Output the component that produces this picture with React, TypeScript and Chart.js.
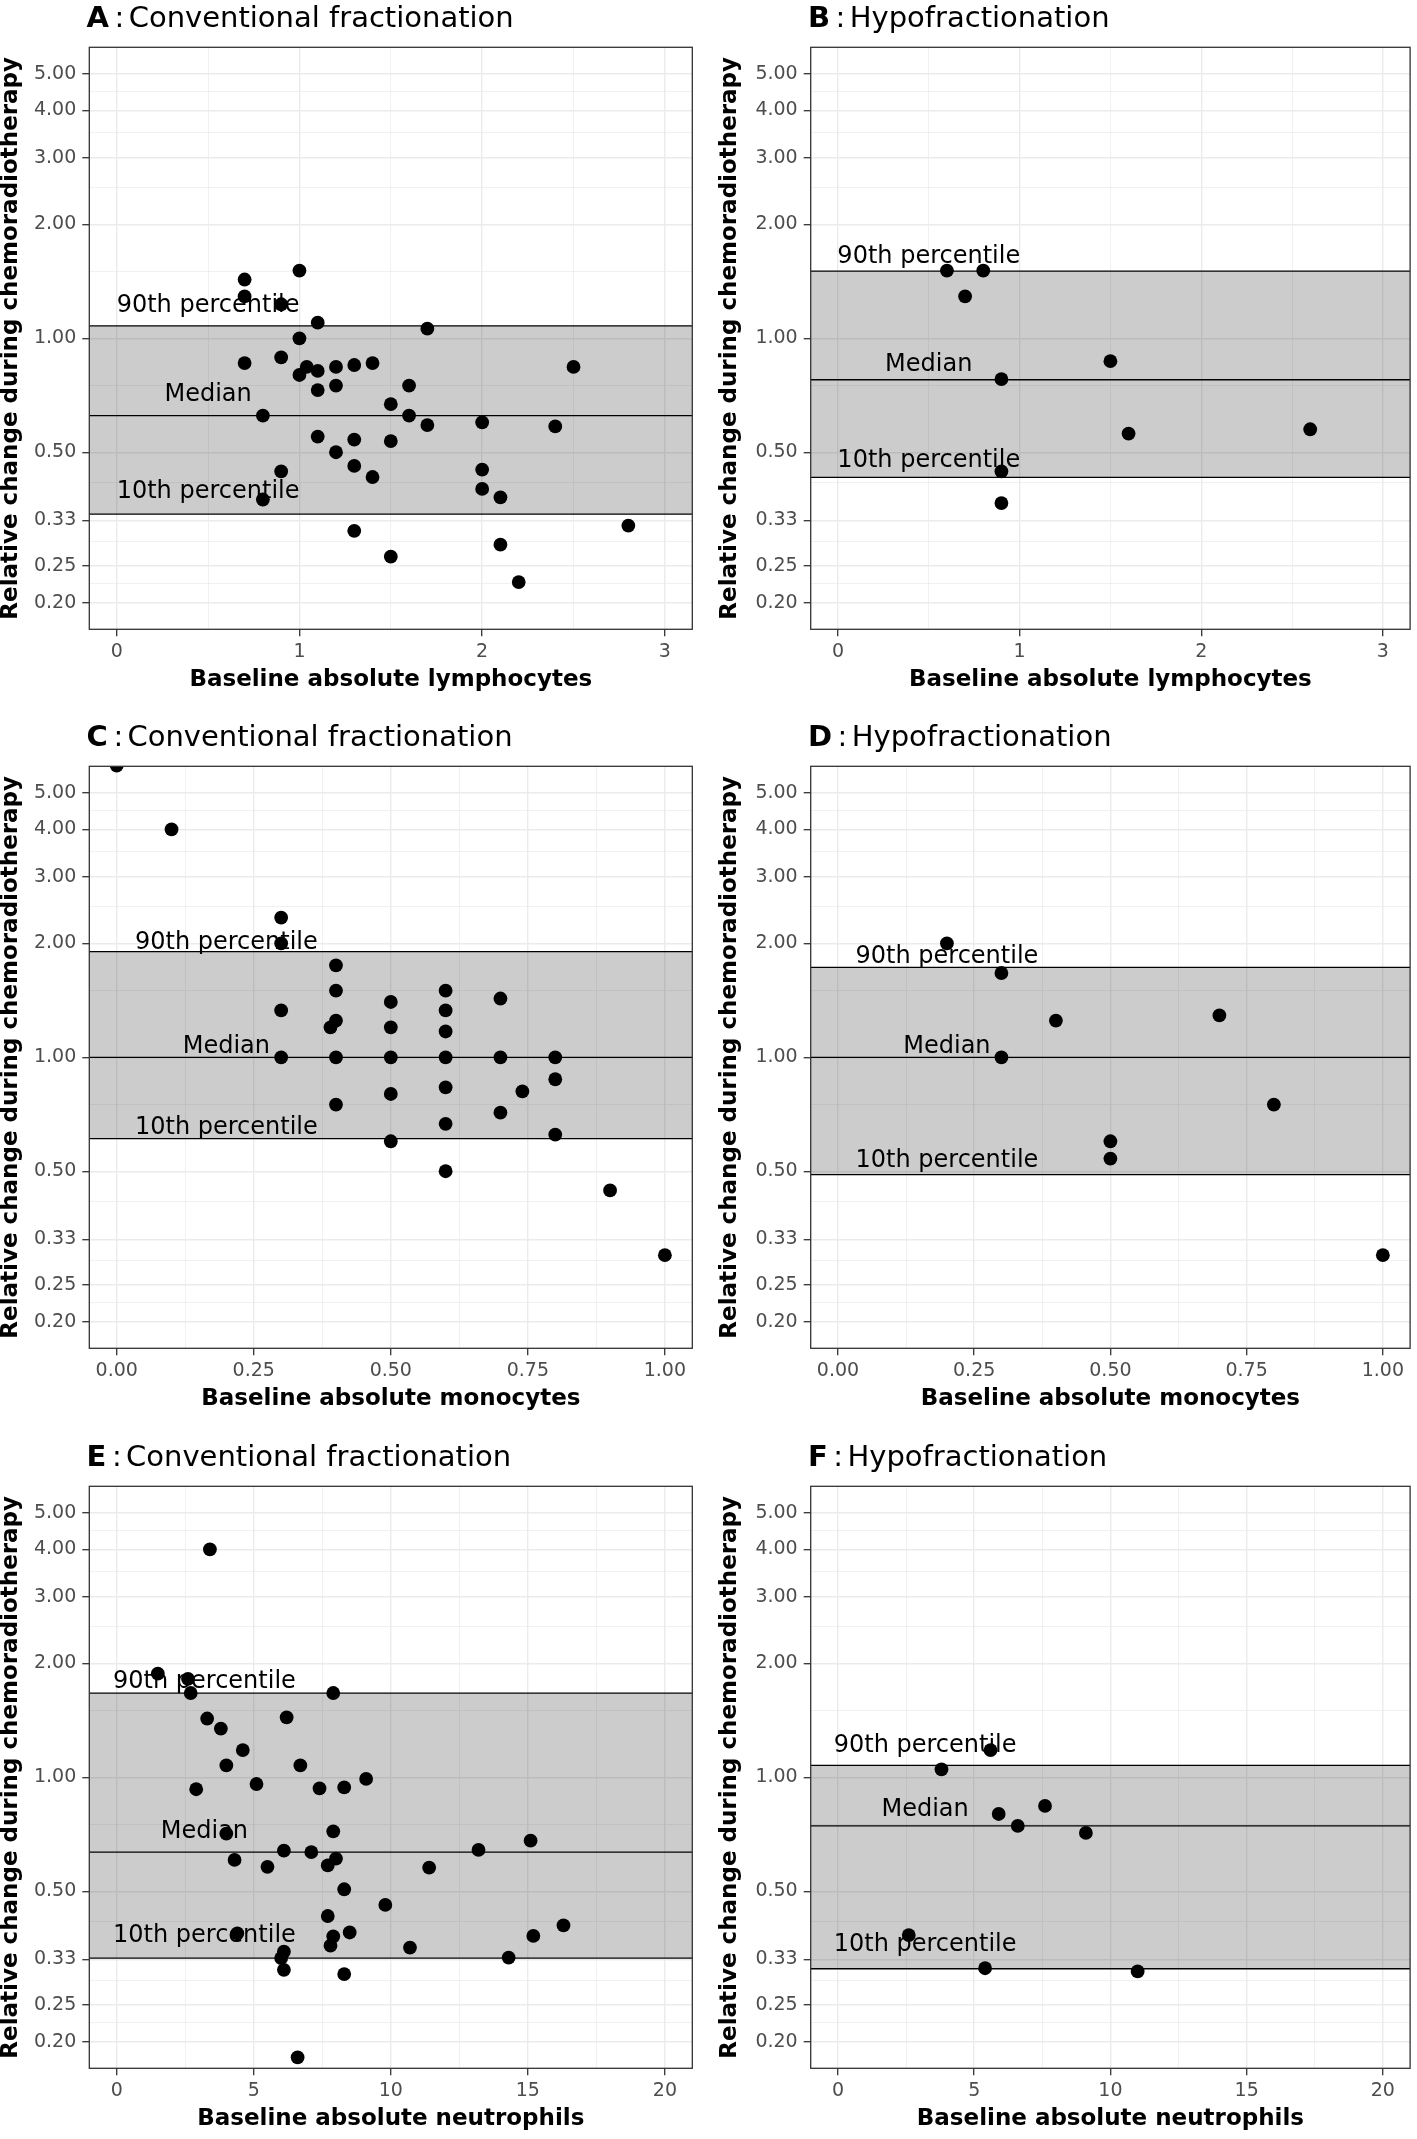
import React, { useEffect, useRef } from "react";
import { Chart, registerables } from "chart.js";

Chart.register(...registerables);

const FONT = "'DejaVu Sans', 'Liberation Sans', sans-serif";

// ---------- shared y axis (log) ----------
const yMajorTicks = [0.2, 0.25, 0.33, 0.5, 1, 2, 3, 4, 5];
const yTickLabels = ["0.20", "0.25", "0.33", "0.50", "1.00", "2.00", "3.00", "4.00", "5.00"];
const yMinorTicks = [0.225, 0.29, 0.415, 0.75, 1.5, 2.5, 3.5, 4.5];
const yLimits = [0.2, 5];

// ---------- x axes ----------
const lymphTicks = [0, 1, 2, 3];
const lymphTickLabels = ["0", "1", "2", "3"];
const lymphMinor = [0.5, 1.5, 2.5];
const lymphLimits = [0, 3];

const monoTicks = [0, 0.25, 0.5, 0.75, 1];
const monoTickLabels = ["0.00", "0.25", "0.50", "0.75", "1.00"];
const monoMinor = [0.125, 0.375, 0.625, 0.875];
const monoLimits = [0, 1];

const neutTicks = [0, 5, 10, 15, 20];
const neutTickLabels = ["0", "5", "10", "15", "20"];
const neutMinor = [2.5, 7.5, 12.5, 17.5];
const neutLimits = [0, 20];

// ---------- data ----------
const lymphConvX = [0.7, 0.7, 1.0, 0.9, 1.1, 1.7, 1.0, 0.7, 0.9, 1.0, 1.04, 1.1, 1.2, 1.3, 1.4, 2.5, 1.2, 1.1, 1.6, 1.5, 0.8, 1.6, 1.7, 2.0, 2.4, 1.1, 1.3, 1.5, 1.2, 0.9, 1.3, 1.4, 2.0, 2.0, 2.1, 0.8, 2.8, 1.3, 2.1, 1.5, 2.2];
const lymphConvY = [1.43, 1.29, 1.51, 1.23, 1.10, 1.06, 1.00, 0.86, 0.89, 0.80, 0.84, 0.82, 0.84, 0.85, 0.86, 0.84, 0.75, 0.73, 0.75, 0.67, 0.625, 0.625, 0.59, 0.60, 0.585, 0.55, 0.54, 0.535, 0.50, 0.445, 0.46, 0.43, 0.45, 0.40, 0.38, 0.375, 0.32, 0.31, 0.285, 0.265, 0.227];
const lymphConvQ = [1.079, 0.625, 0.343];

const lymphHypoX = [0.6, 0.8, 0.7, 1.5, 0.9, 1.6, 2.6, 0.9, 0.9];
const lymphHypoY = [1.51, 1.51, 1.29, 0.87, 0.78, 0.56, 0.575, 0.445, 0.367];
const lymphHypoQ = [1.504, 0.777, 0.429];

const monoConvX = [0, 0.1, 0.3, 0.3, 0.4, 0.4, 0.6, 0.5, 0.7, 0.3, 0.6, 0.4, 0.39, 0.5, 0.6, 0.3, 0.4, 0.5, 0.6, 0.7, 0.8, 0.8, 0.6, 0.5, 0.74, 0.4, 0.7, 0.6, 0.8, 0.5, 0.6, 0.9, 1.0];
const monoConvY = [5.9, 4.0, 2.34, 2.0, 1.75, 1.5, 1.5, 1.4, 1.43, 1.33, 1.33, 1.25, 1.2, 1.2, 1.17, 1, 1, 1, 1, 1, 1, 0.875, 0.833, 0.8, 0.813, 0.75, 0.714, 0.667, 0.625, 0.6, 0.5, 0.445, 0.3];
const monoConvQ = [1.902, 1.0, 0.61];

const monoHypoX = [0.2, 0.3, 0.4, 0.7, 0.3, 0.8, 0.5, 0.5, 1.0];
const monoHypoY = [2.0, 1.67, 1.25, 1.29, 1.0, 0.75, 0.6, 0.54, 0.3];
const monoHypoQ = [1.729, 1.0, 0.49];

const neutConvX = [3.4, 1.5, 2.6, 2.7, 7.9, 3.3, 6.2, 3.8, 4.6, 4.0, 6.7, 9.1, 2.9, 5.1, 7.4, 8.3, 4.0, 7.9, 15.1, 6.1, 7.1, 13.2, 4.3, 8.0, 5.5, 7.7, 11.4, 8.3, 9.8, 7.7, 16.3, 4.4, 7.9, 8.5, 15.2, 7.8, 10.7, 6.1, 6.0, 14.3, 6.1, 8.3, 6.6];
const neutConvY = [4.0, 1.88, 1.82, 1.67, 1.67, 1.43, 1.44, 1.345, 1.18, 1.075, 1.075, 0.99, 0.93, 0.96, 0.935, 0.94, 0.71, 0.72, 0.68, 0.64, 0.634, 0.643, 0.605, 0.61, 0.58, 0.585, 0.577, 0.506, 0.46, 0.43, 0.406, 0.387, 0.38, 0.389, 0.381, 0.359, 0.355, 0.346, 0.333, 0.334, 0.31, 0.302, 0.182];
const neutConvQ = [1.668, 0.634, 0.333];

const neutHypoX = [5.6, 3.8, 7.6, 5.9, 6.6, 9.1, 2.6, 5.4, 11.0];
const neutHypoY = [1.18, 1.05, 0.84, 0.8, 0.744, 0.713, 0.383, 0.313, 0.307];
const neutHypoQ = [1.075, 0.744, 0.312];

// annotation text and their anchor (x centre, y baseline) per panel
const quantileLabels = ["90th percentile", "Median", "10th percentile"];
const lymphConvLabelPos = { x: 0.5, y: [1.174, 0.682, 0.378] };
const lymphHypoLabelPos = { x: 0.5, y: [1.577, 0.822, 0.456] };
const monoConvLabelPos = { x: 0.2, y: [1.929, 1.025, 0.627] };
const monoHypoLabelPos = { x: 0.2, y: [1.772, 1.025, 0.514] };
const neutConvLabelPos = { x: 3.2, y: [1.725, 0.69, 0.367] };
const neutHypoLabelPos = { x: 3.2, y: [1.163, 0.791, 0.348] };

const yTitle = "Relative change during chemoradiotherapy";

type PanelCfg = {
  letter: string;
  title: string;
  xTitle: string;
  xs: number[];
  ys: number[];
  q: number[];
  labelPos: { x: number; y: number[] };
  xTicks: number[];
  xTickLabels: string[];
  xMinor: number[];
  xLimits: number[];
  col: number;
  row: number;
};

const panels: PanelCfg[] = [
  { letter: "A", title: "Conventional fractionation", xTitle: "Baseline absolute lymphocytes", xs: lymphConvX, ys: lymphConvY, q: lymphConvQ, labelPos: lymphConvLabelPos, xTicks: lymphTicks, xTickLabels: lymphTickLabels, xMinor: lymphMinor, xLimits: lymphLimits, col: 0, row: 0 },
  { letter: "B", title: "Hypofractionation", xTitle: "Baseline absolute lymphocytes", xs: lymphHypoX, ys: lymphHypoY, q: lymphHypoQ, labelPos: lymphHypoLabelPos, xTicks: lymphTicks, xTickLabels: lymphTickLabels, xMinor: lymphMinor, xLimits: lymphLimits, col: 1, row: 0 },
  { letter: "C", title: "Conventional fractionation", xTitle: "Baseline absolute monocytes", xs: monoConvX, ys: monoConvY, q: monoConvQ, labelPos: monoConvLabelPos, xTicks: monoTicks, xTickLabels: monoTickLabels, xMinor: monoMinor, xLimits: monoLimits, col: 0, row: 1 },
  { letter: "D", title: "Hypofractionation", xTitle: "Baseline absolute monocytes", xs: monoHypoX, ys: monoHypoY, q: monoHypoQ, labelPos: monoHypoLabelPos, xTicks: monoTicks, xTickLabels: monoTickLabels, xMinor: monoMinor, xLimits: monoLimits, col: 1, row: 1 },
  { letter: "E", title: "Conventional fractionation", xTitle: "Baseline absolute neutrophils", xs: neutConvX, ys: neutConvY, q: neutConvQ, labelPos: neutConvLabelPos, xTicks: neutTicks, xTickLabels: neutTickLabels, xMinor: neutMinor, xLimits: neutLimits, col: 0, row: 2 },
  { letter: "F", title: "Hypofractionation", xTitle: "Baseline absolute neutrophils", xs: neutHypoX, ys: neutHypoY, q: neutHypoQ, labelPos: neutHypoLabelPos, xTicks: neutTicks, xTickLabels: neutTickLabels, xMinor: neutMinor, xLimits: neutLimits, col: 1, row: 2 },
];

// ---------- layout ----------
const COL_X = [0, 708];
const COL_W = [708, 709];
const ROW_Y = [0, 719, 1439];
const CANVAS_H = 700;
const PLOT_LEFT = [89.3, 102.7];
const PLOT_RIGHT = [692.3, 705.7];
const PLOT_TOP = 47.3;
const PLOT_BOTTOM = 629.3;

const GRID = "#EBEBEB";
const AXIS_DARK = "#333333";

function Panel({ cfg }: { cfg: PanelCfg }) {
  const ref = useRef<HTMLCanvasElement>(null);
  const W = COL_W[cfg.col];
  useEffect(() => {
    const canvas = ref.current;
    if (!canvas) return;
    const [xlo, xhi] = cfg.xLimits;
    const xr = xhi - xlo;
    const lyLo = Math.log10(yLimits[0]);
    const lyHi = Math.log10(yLimits[1]);
    const ly = lyHi - lyLo;
    const yMin = Math.pow(10, lyLo - 0.05 * ly);
    const yMax = Math.pow(10, lyHi + 0.05 * ly);
    const left = PLOT_LEFT[cfg.col];
    const right = PLOT_RIGHT[cfg.col];

    const xLabelMap = new Map<number, string>();
    cfg.xTicks.forEach((v, i) => xLabelMap.set(v, cfg.xTickLabels[i]));
    const yLabelMap = new Map<number, string>();
    yMajorTicks.forEach((v, i) => yLabelMap.set(v, yTickLabels[i]));

    const isMinor = (ctx: any) => !!(ctx.tick && ctx.tick.minorTick);

    const panelPlugin = {
      id: "panelDecor",
      beforeDatasetsDraw(chart: any) {
        const { ctx, chartArea: a, scales } = chart;
        const xs = scales.x;
        const ys = scales.y;
        const py = cfg.q.map((v) => ys.getPixelForValue(v));
        ctx.save();
        ctx.fillStyle = "rgba(0,0,0,0.2)";
        ctx.fillRect(a.left, py[0], a.right - a.left, py[2] - py[0]);
        ctx.strokeStyle = "#000000";
        ctx.lineWidth = 1.3;
        py.forEach((yy: number) => {
          ctx.beginPath();
          ctx.moveTo(a.left, yy);
          ctx.lineTo(a.right, yy);
          ctx.stroke();
        });
        ctx.fillStyle = "#000000";
        ctx.font = `24px ${FONT}`;
        ctx.textAlign = "center";
        ctx.textBaseline = "alphabetic";
        const lx = xs.getPixelForValue(cfg.labelPos.x);
        quantileLabels.forEach((t, i) => {
          ctx.fillText(t, lx, ys.getPixelForValue(cfg.labelPos.y[i]));
        });
        ctx.restore();
      },
      afterDraw(chart: any) {
        const { ctx, chartArea: a } = chart;
        ctx.save();
        ctx.strokeStyle = AXIS_DARK;
        ctx.lineWidth = 1.3;
        ctx.strokeRect(a.left, a.top, a.right - a.left, a.bottom - a.top);
        // panel title: bold letter, then ": title"
        const baseY = 26.7;
        const x0 = left - 2.8;
        ctx.fillStyle = "#000000";
        ctx.textBaseline = "alphabetic";
        ctx.textAlign = "left";
        ctx.font = `bold 29px ${FONT}`;
        ctx.fillText(cfg.letter, x0, baseY);
        const wL = ctx.measureText(cfg.letter).width;
        ctx.font = `29px ${FONT}`;
        const colonX = x0 + wL + 10.5;
        ctx.textAlign = "center";
        ctx.fillText(":", colonX, baseY);
        ctx.textAlign = "left";
        ctx.fillText(cfg.title, colonX + 9.2, baseY);
        ctx.restore();
      },
    };

    const chart = new Chart(canvas, {
      type: "scatter",
      data: {
        datasets: [
          {
            data: cfg.xs.map((x, i) => ({ x, y: cfg.ys[i] })),
            pointRadius: 6.9,
            pointHoverRadius: 6.9,
            pointBorderWidth: 0,
            pointBackgroundColor: "#000000",
            pointBorderColor: "#000000",
            clip: 0,
          } as any,
        ],
      },
      options: {
        responsive: false,
        animation: false,
        events: [],
        devicePixelRatio: 1,
        layout: {
          padding: { left: 0, top: PLOT_TOP, right: W - right, bottom: 0 },
        },
        plugins: {
          legend: { display: false },
          tooltip: { enabled: false },
          title: { display: false },
        },
        scales: {
          x: {
            type: "linear",
            position: "bottom",
            min: xlo - 0.05 * xr,
            max: xhi + 0.05 * xr,
            afterBuildTicks: (scale: any) => {
              const t = cfg.xTicks.map((v) => ({ value: v, minorTick: false }));
              const m = cfg.xMinor.map((v) => ({ value: v, minorTick: true }));
              scale.ticks = [...t, ...m].sort((p, q) => p.value - q.value);
            },
            afterFit: (scale: any) => {
              scale.height = CANVAS_H - PLOT_BOTTOM;
            },
            border: { display: false },
            grid: {
              color: GRID,
              lineWidth: (ctx: any) => (isMinor(ctx) ? 0.7 : 1.4),
              tickColor: (ctx: any) => (isMinor(ctx) ? "rgba(0,0,0,0)" : AXIS_DARK),
              tickWidth: 1.3,
              tickLength: 7,
              drawTicks: true,
            },
            ticks: {
              autoSkip: false,
              maxRotation: 0,
              padding: 4,
              color: "#4D4D4D",
              font: { family: FONT, size: 19 },
              callback: (value: any, index: number, ticks: any[]) =>
                ticks[index] && ticks[index].minorTick ? "" : xLabelMap.get(Number(value)) ?? "",
            },
            title: {
              display: true,
              text: cfg.xTitle,
              color: "#000000",
              font: { family: FONT, size: 23, weight: "bold", lineHeight: 1.2 },
              padding: { top: 0, bottom: 6.1 },
            },
          },
          y: {
            type: "logarithmic",
            position: "left",
            min: yMin,
            max: yMax,
            afterBuildTicks: (scale: any) => {
              const t = yMajorTicks.map((v) => ({ value: v, minorTick: false }));
              const m = yMinorTicks.map((v) => ({ value: v, minorTick: true }));
              scale.ticks = [...t, ...m].sort((p, q) => p.value - q.value);
            },
            afterFit: (scale: any) => {
              scale.width = left;
            },
            border: { display: false },
            grid: {
              color: GRID,
              lineWidth: (ctx: any) => (isMinor(ctx) ? 0.7 : 1.4),
              tickColor: (ctx: any) => (isMinor(ctx) ? "rgba(0,0,0,0)" : AXIS_DARK),
              tickWidth: 1.3,
              tickLength: 7,
              drawTicks: true,
            },
            ticks: {
              autoSkip: false,
              padding: 6,
              color: "#4D4D4D",
              font: { family: FONT, size: 19 },
              callback: (value: any, index: number, ticks: any[]) =>
                ticks[index] && ticks[index].minorTick ? "" : yLabelMap.get(Number(value)) ?? "",
            },
            title: {
              display: true,
              text: yTitle,
              color: "#000000",
              font: { family: FONT, size: 23, weight: "bold", lineHeight: 0.9 },
              padding: { top: cfg.col === 0 ? 0.85 : 12.15, bottom: 0 },
            },
          },
        },
      } as any,
      plugins: [panelPlugin],
    });
    return () => chart.destroy();
  }, [cfg]);

  return (
    <canvas
      ref={ref}
      width={W}
      height={CANVAS_H}
      style={{
        position: "absolute",
        left: COL_X[cfg.col],
        top: ROW_Y[cfg.row],
        width: W,
        height: CANVAS_H,
      }}
    />
  );
}

export default function App() {
  return (
    <div
      style={{
        position: "absolute",
        left: 0,
        top: 0,
        width: 1417,
        height: 2139,
        background: "#ffffff",
        overflow: "hidden",
      }}
    >
      {panels.map((p) => (
        <Panel key={p.letter} cfg={p} />
      ))}
    </div>
  );
}
